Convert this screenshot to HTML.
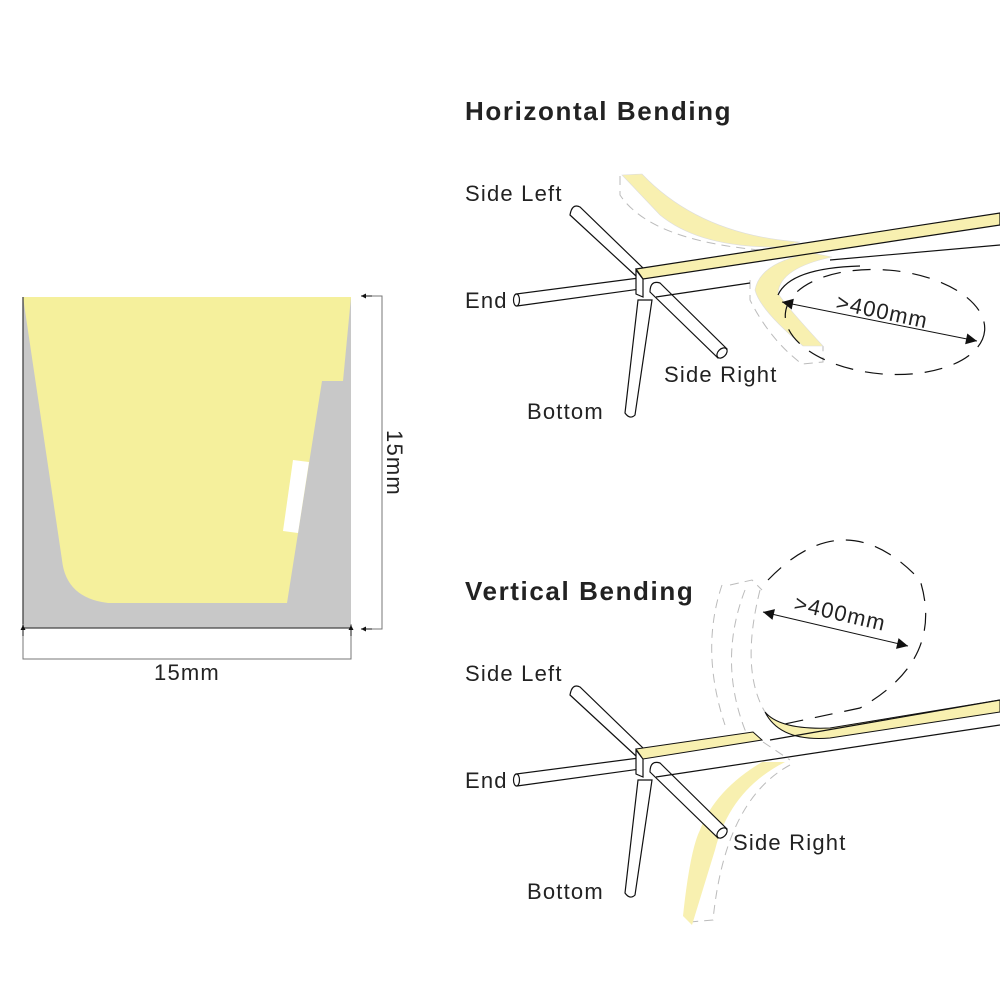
<!DOCTYPE html>
<html><head><meta charset="utf-8"><style>
html,body{margin:0;padding:0;background:#fff;}
svg{display:block;}
text{font-family:"Liberation Sans",sans-serif;fill:#222;}
.l{font-size:22px;letter-spacing:1.2px;}
.t{font-size:26px;font-weight:bold;letter-spacing:1.6px;}
</style></head><body>
<svg width="1000" height="1000" viewBox="0 0 1000 1000" xmlns="http://www.w3.org/2000/svg">
<defs>
<marker id="ah" viewBox="0 0 10 10" refX="10" refY="5" markerWidth="20" markerHeight="11" orient="auto-start-reverse" markerUnits="userSpaceOnUse"><path d="M0,0 L10,5 L0,10 z" fill="#111"/></marker>
<marker id="sa" viewBox="0 0 10 10" refX="10" refY="5" markerWidth="8" markerHeight="5" orient="auto" markerUnits="userSpaceOnUse"><path d="M0,0 L10,5 L0,10 z" fill="#111"/></marker>
</defs>
<rect x="23" y="297" width="328" height="331" fill="#c8c8c8"/>
<path d="M23,297 L351,297 L343,381 L322,381 L287,603 L108,603 Q66,598 62,560 Z" fill="#f5f09c"/>
<polygon points="293,460 309,462 298,533 283,531" fill="#fff"/>
<line x1="23" y1="297" x2="23" y2="628" stroke="#444" stroke-width="1.3"/>
<line x1="23" y1="628" x2="351" y2="628" stroke="#444" stroke-width="1.3"/>
<g stroke="#777" stroke-width="1" fill="none">
<path d="M362,296 L382,296 L382,629 L362,629"/>
<path d="M23,624 L23,659 L351,659 L351,624"/>
</g>
<line x1="372" y1="296" x2="361" y2="296" stroke="#111" marker-end="url(#sa)"/>
<line x1="372" y1="629" x2="361" y2="629" stroke="#111" marker-end="url(#sa)"/>
<line x1="23" y1="636" x2="23" y2="625" stroke="#111" marker-end="url(#sa)"/>
<line x1="351" y1="636" x2="351" y2="625" stroke="#111" marker-end="url(#sa)"/>
<text x="187" y="680" class="l" text-anchor="middle">15mm</text>
<text x="0" y="0" class="l" text-anchor="middle" transform="translate(387,463) rotate(90)">15mm</text>

<text x="465" y="120" class="t">Horizontal Bending</text>
<text x="465" y="600" class="t">Vertical Bending</text>

<g id="rig1">
<text x="465" y="201" class="l">Side Left</text>
<text x="465" y="308" class="l">End</text>
<text x="527" y="419" class="l">Bottom</text>
<g stroke="#111" stroke-width="1.2" fill="#fff">
<path d="M570,215 L636,276 L643,268 L580,207 Q572,203 570,215 Z"/>
<path d="M517,306 L640,289 L639,278 L516,294 Z"/>
<ellipse cx="516.5" cy="300" rx="3" ry="6"/>
<path d="M625,413 L638,300 L652,300 L635,415 Q630,420 625,413 Z"/>
<path d="M650,292 L718,358 L727,349 L660,283 Q650,280 650,292 Z"/>
<ellipse cx="722" cy="353" rx="4" ry="6" transform="rotate(45 722 353)"/>
<path d="M636,270 L643,279 L643,297 L636,294 Z"/>
</g>
</g>

<g stroke="#bbb" stroke-width="1" stroke-dasharray="9,6" fill="none">
<path d="M620,176 L620,195 Q650,240 760,250"/>
<path d="M750,280 L750,300 Q770,340 802,364 L823,362 L823,346"/>
</g>
<path d="M622,175 L642,174 Q700,235 800,242 L780,247 Q700,248 660,215 Z" fill="#f8f0b0" stroke="#ddd" stroke-width="0.6"/>
<path d="M812,253 Q760,262 755,290 Q760,310 803,346 L823,346 Q785,305 778,293 Q780,268 832,257 Z" fill="#f8f0b0" stroke="#ddd" stroke-width="0.6"/>
<polygon points="636,269 1000,213 1000,225 643,279" fill="#f8f0b0" stroke="#111" stroke-width="1.2"/>
<line x1="656" y1="297" x2="750" y2="283" stroke="#111" stroke-width="1.2"/>
<path d="M830,260 L1000,245" stroke="#111" stroke-width="1.2"/>
<path d="M778,295 Q790,268 860,266" stroke="#111" stroke-width="1.2" fill="none"/>
<ellipse cx="885" cy="322" rx="100" ry="52" transform="rotate(5 885 322)" fill="none" stroke="#111" stroke-width="1.2" stroke-dasharray="18,12"/>
<line x1="782" y1="302" x2="977" y2="341" stroke="#111" stroke-width="1" marker-start="url(#ah)" marker-end="url(#ah)"/>
<text x="0" y="0" class="l" transform="translate(835,309) rotate(12)">&gt;400mm</text>
<text x="664" y="382" class="l">Side Right</text>

<g stroke="#bbb" stroke-width="1" stroke-dasharray="9,6" fill="none">
<path d="M730,585 L752,580 L762,590 M745,590 Q718,660 745,730 L790,760"/>
<path d="M722,585 Q700,650 725,725"/>
<path d="M760,590 Q740,670 765,712"/>
<path d="M790,765 Q725,800 713,920 L690,922"/>
</g>
<path d="M762,762 L785,762 Q730,790 715,850 L692,925 L683,916 Q690,850 700,830 Q715,790 762,762 Z" fill="#f8f0b0"/>
<use href="#rig1" transform="translate(0,480)"/>
<path d="M765,712 Q780,730 830,728 L1000,700 L1000,712 L830,738 Q780,742 765,712 Z" fill="#f8f0b0" stroke="#111" stroke-width="1"/>
<polygon points="636,749 753,732 762,740 643,759" fill="#f8f0b0" stroke="#111" stroke-width="1"/>
<line x1="656" y1="777" x2="1000" y2="725" stroke="#111" stroke-width="1.2"/>
<path d="M770,740 L1000,700" stroke="#111" stroke-width="1.2"/>
<path d="M768,580 Q845,500 920,580 Q945,660 860,708 L780,725" fill="none" stroke="#111" stroke-width="1.2" stroke-dasharray="18,12"/>
<line x1="763" y1="612" x2="908" y2="646" stroke="#111" stroke-width="1" marker-start="url(#ah)" marker-end="url(#ah)"/>
<text x="0" y="0" class="l" transform="translate(793,610) rotate(13)">&gt;400mm</text>
<text x="733" y="850" class="l">Side Right</text>
</svg>
</body></html>
